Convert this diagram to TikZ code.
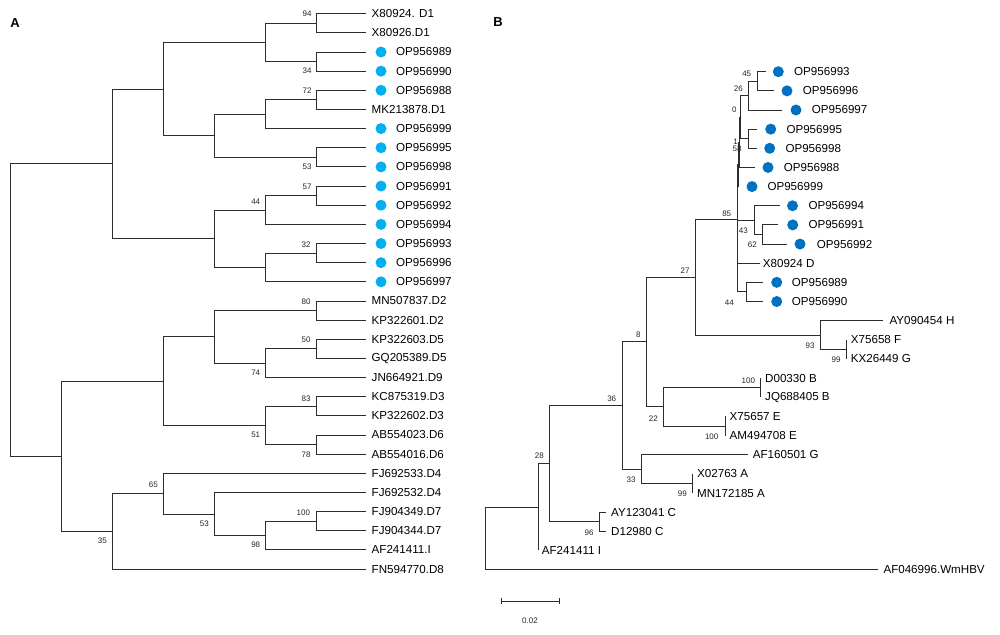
\documentclass[tikz,border=0pt]{standalone}
\usepackage{fontspec}
\setmainfont{Liberation Sans}
\definecolor{dotA}{RGB}{0,176,240}
\definecolor{dotB}{RGB}{0,112,192}
\definecolor{branch}{RGB}{45,45,45}
\tikzset{
  tree/.style={draw=branch, line width=0.9pt},
  leaf/.style={anchor=west, inner sep=0pt, font=\fontsize{11.6}{13}\selectfont},
  bs/.style={inner sep=0pt, font=\fontsize{8}{9}\selectfont, text=black!85},
  dotAs/.style={circle, fill=dotA, minimum size=11pt, inner sep=0pt},
  dotBs/.style={circle, fill=dotB, minimum size=11pt, inner sep=0pt},
  panel/.style={inner sep=0pt, font=\bfseries\fontsize{13}{14}\selectfont}
}
\begin{document}
\begin{tikzpicture}[x=1pt,y=-1pt]
\fill[white] (0,0) rectangle (1000,634);
\useasboundingbox (0,0) rectangle (1000,634);

\node[panel] (pA) at (15,22.7) {A};
\node[panel] (pB) at (498,21.7) {B};

% ---------------- Panel A leaves ----------------
\foreach \i/\lab in {0/{X80924. D1},1/X80926.D1,5/MK213878.D1,15/MN507837.D2,16/KP322601.D2,17/KP322603.D5,18/GQ205389.D5,19/JN664921.D9,20/KC875319.D3,21/KP322602.D3,22/AB554023.D6,23/AB554016.D6,24/FJ692533.D4,25/FJ692532.D4,26/FJ904349.D7,27/FJ904344.D7,28/AF241411.I,29/FN594770.D8} {
  \coordinate (a\i) at (366,{13.7+19.15*\i});
  \node[leaf] (al\i) at (371.5,{13.7+19.15*\i}) {\lab};
}
\foreach \i/\lab in {2/OP956989,3/OP956990,4/OP956988,6/OP956999,7/OP956995,8/OP956998,9/OP956991,10/OP956992,11/OP956994,12/OP956993,13/OP956996,14/OP956997} {
  \coordinate (a\i) at (366,{13.7+19.15*\i});
  \node[dotAs] (ad\i) at (381,{13.7+19.15*\i}) {};
  \node[leaf] (al\i) at (396,{13.7+19.15*\i}) {\lab};
}

% ---------------- Panel A internal nodes ----------------
\coordinate (n94) at (316.7,23.275);
\coordinate (n34) at (316.7,61.575);
\coordinate (nA1) at (265.7,42.425);
\coordinate (n72) at (316.7,99.875);
\coordinate (nA2) at (265.7,114.24);
\coordinate (n53) at (316.7,157.325);
\coordinate (nA3) at (214.3,135.78);
\coordinate (nA4) at (163.3,89.10);
\coordinate (n57) at (316.7,195.625);
\coordinate (n44) at (265.7,209.99);
\coordinate (n32) at (316.7,253.075);
\coordinate (nA5) at (265.7,267.44);
\coordinate (nA6) at (214.3,238.71);
\coordinate (nA7) at (112.3,163.91);
\coordinate (n80) at (316.7,310.525);
\coordinate (n50) at (316.7,348.825);
\coordinate (n74) at (265.7,363.19);
\coordinate (nA8) at (214.3,336.86);
\coordinate (n83) at (316.7,406.275);
\coordinate (n78) at (316.7,444.575);
\coordinate (n51) at (265.7,425.425);
\coordinate (nA9) at (163.3,381.14);
\coordinate (n100) at (316.7,521.175);
\coordinate (n98) at (265.7,535.54);
\coordinate (n53b) at (214.3,513.99);
\coordinate (n65) at (163.3,493.65);
\coordinate (n35) at (112.3,531.35);
\coordinate (nA10) at (61,456.25);
\coordinate (rA) at (10,310.08);

\foreach \p/\c in {rA/nA7,rA/nA10,nA7/nA4,nA7/nA6,nA4/nA1,nA4/nA3,nA1/n94,nA1/n34,n94/a0,n94/a1,n34/a2,n34/a3,nA3/nA2,nA3/n53,nA2/n72,nA2/a6,n72/a4,n72/a5,n53/a7,n53/a8,nA6/n44,nA6/nA5,n44/n57,n44/a11,n57/a9,n57/a10,nA5/n32,nA5/a14,n32/a12,n32/a13,nA10/nA9,nA10/n35,nA9/nA8,nA9/n51,nA8/n80,nA8/n74,n80/a15,n80/a16,n74/n50,n74/a19,n50/a17,n50/a18,n51/n83,n51/n78,n83/a20,n83/a21,n78/a22,n78/a23,n35/n65,n35/a29,n65/a24,n65/n53b,n53b/a25,n53b/n98,n98/n100,n98/a28,n100/a26,n100/a27}
  \draw[tree] (\p) |- (\c);

% bootstrap values A
\foreach \x/\y/\t [count=\k] in {307/14/94,307/71/34,307/90.7/72,307/166.7/53,307/186.7/57,255.7/201.7/44,306/244.3/32,306/301.7/80,306/340/50,255.7/372.7/74,306/398.3/83,255.7/435/51,306/454.3/78,153.3/485/65,204.3/524/53,303.3/512.7/100,255.7/545/98,102.3/540.7/35}
  \node[bs] (ba\k) at (\x,\y) {\t};

% ---------------- Panel B leaves ----------------
\foreach \k/\tip/\dx/\tx/\lab in {0/765.7/778.3/794/OP956993,1/774/787/802.7/OP956996,2/781.7/796/811.7/OP956997,3/757/770.7/786.3/OP956995,4/757/769.7/785.3/OP956998,5/755/768/783.7/OP956988,6/738.3/752/767.3/OP956999,7/780/792.5/808.3/OP956994,8/778/792.7/808.3/OP956991,9/786.7/800/816.7/OP956992,11/763.3/776.7/791.7/OP956989,12/763.3/776.7/791.7/OP956990} {
  \coordinate (b\k) at (\tip,{71.7+19.15*\k});
  \node[dotBs] (bd\k) at (\dx,{71.7+19.15*\k}) {};
  \node[leaf] (bl\k) at (\tx,{71.7+19.15*\k}) {\lab};
}
\foreach \k/\tip/\tx/\lab in {10/760/762.7/X80924 D,13/883.3/889.3/AY090454 H,14/846.7/850.7/X75658 F,15/846.7/850.7/KX26449 G,16/760.7/765/D00330 B,17/760.7/765/JQ688405 B,18/725.5/729.5/X75657 E,19/725.5/729.5/AM494708 E,20/748.3/752.7/AF160501 G,21/692.7/697/X02763 A,22/692.7/697/MN172185 A,23/606/611/AY123041 C,24/606/611/D12980 C,25/538.3/541.7/AF241411 I,26/878.3/883.3/AF046996.WmHBV} {
  \coordinate (b\k) at (\tip,{71.7+19.15*\k});
  \node[leaf] (bl\k) at (\tx,{71.7+19.15*\k}) {\lab};
}

% ---------------- Panel B internal nodes ----------------
\coordinate (m45) at (757.3,81.275);
\coordinate (m26) at (748.7,95.64);
\coordinate (m58) at (748.7,138.725);
\coordinate (m0) at (740.5,117.18);
\coordinate (m1) at (739.2,142.3);
\coordinate (mZ) at (738.3,164.45);
\coordinate (m62) at (762.7,234.475);
\coordinate (m43) at (754.3,220.11);
\coordinate (m44) at (746,291.925);
\coordinate (m85) at (737.5,219);
\coordinate (m99) at (846.7,349.375);
\coordinate (m93) at (820.7,335.01);
\coordinate (m27) at (695,277);
\coordinate (m100B) at (760.7,387.675);
\coordinate (m100E) at (725.5,425.975);
\coordinate (m22) at (663.3,406.825);
\coordinate (m8) at (646,341.9);
\coordinate (m99A) at (692.7,483.425);
\coordinate (m33) at (641,469.06);
\coordinate (m36) at (622,405.48);
\coordinate (m96) at (599.3,521.725);
\coordinate (mX) at (549.3,463.6);
\coordinate (m28) at (538.3,507.03);
\coordinate (rB) at (485.7,538.3);

\foreach \p/\c in {rB/m28,rB/b26,m28/mX,m28/b25,mX/m36,mX/m96,m96/b23,m96/b24,m36/m8,m36/m33,m33/b20,m33/m99A,m99A/b21,m99A/b22,m8/m27,m8/m22,m22/m100B,m22/m100E,m100B/b16,m100B/b17,m100E/b18,m100E/b19,m27/m85,m27/m93,m93/b13,m93/m99,m99/b14,m99/b15,m85/mZ,m85/m43,m85/b10,m85/m44,mZ/m1,mZ/b6,m1/m0,m1/b5,m0/m26,m0/m58,m26/m45,m26/b2,m45/b0,m45/b1,m58/b3,m58/b4,m43/b7,m43/m62,m62/b8,m62/b9,m44/b11,m44/b12}
  \draw[tree] (\p) |- (\c);

% bootstrap values B
\foreach \x/\y/\t [count=\k] in {746.7/73.3/45,738.3/88.3/26,734.3/109.3/0,735.5/142/1,737/149/58,726.7/214/85,743.3/230.7/43,752.3/245/62,729.3/302.7/44,685/270.7/27,810/346/93,836/360/99,638.3/335/8,748.3/380.7/100,653.3/418.3/22,711.7/436.7/100,611.7/398.3/36,631/480/33,682.3/494/99,539.3/456/28,589/532.7/96}
  \node[bs] (bb\k) at (\x,\y) {\t};

% scale bar
\coordinate (s1) at (501,601);
\coordinate (s2) at (559.3,601);
\draw[tree] (s1) -- (s2);
\draw[tree] ([yshift=-3pt]s1) -- ([yshift=3pt]s1);
\draw[tree] ([yshift=-3pt]s2) -- ([yshift=3pt]s2);
\node[bs] (sl) at (530,621) {0.02};
\end{tikzpicture}
\end{document}
